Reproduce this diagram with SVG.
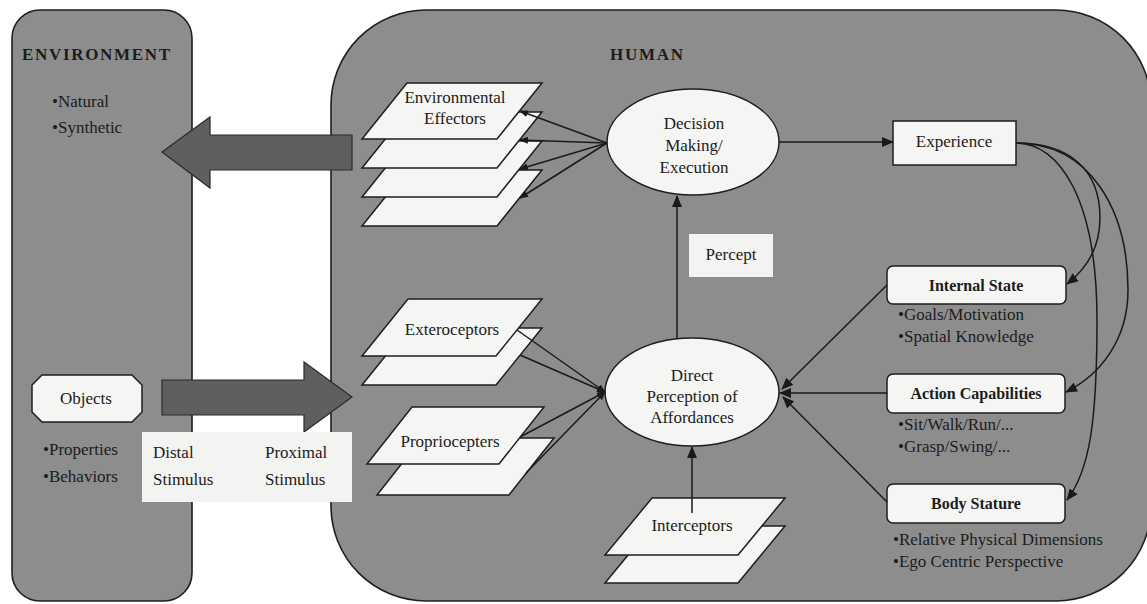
<svg xmlns="http://www.w3.org/2000/svg" width="1147" height="604" viewBox="0 0 1147 604">
<defs>
<style>
.panel{fill:#8d8d8d;stroke:#1e1e1e;stroke-width:1.6}
.big{fill:#5f5f5f;stroke:#2a2a2a;stroke-width:1.2}
.wh{fill:#f5f5f3;stroke:#1e1e1e;stroke-width:1.5}
.lbl{fill:#f3f3f1}
.t{font-family:"Liberation Serif","Times New Roman",serif;font-size:17px;fill:#1c1c1c}
.c{text-anchor:middle}
.b{font-weight:bold}
.h{font-family:"Liberation Serif","Times New Roman",serif;font-size:17px;font-weight:bold;fill:#1c1c1c}
.ln{fill:none;stroke:#1a1a1a;stroke-width:1.5}
</style>
<marker id="ah" viewBox="0 0 12 10" refX="11" refY="5" markerWidth="12" markerHeight="10" markerUnits="userSpaceOnUse" orient="auto">
<path d="M0,0 L12,5 L0,10 Z" fill="#1a1a1a"/>
</marker>
<marker id="as" viewBox="0 0 10 8" refX="9" refY="4" markerWidth="9" markerHeight="7" markerUnits="userSpaceOnUse" orient="auto">
<path d="M0,0 L10,4 L0,8 Z" fill="#1a1a1a"/>
</marker>
</defs>

<g id="environment">
<rect class="panel" x="12" y="10" width="180" height="591" rx="28" ry="28"/>
<text class="h" x="22" y="60" textLength="148" lengthAdjust="spacing">ENVIRONMENT</text>
<text class="t" x="52" y="107">•Natural</text>
<text class="t" x="52" y="133">•Synthetic</text>
</g>

<g id="human">
<rect class="panel" x="331" y="10" width="820" height="591" rx="95" ry="95"/>
<text class="h" x="610" y="60" textLength="73" lengthAdjust="spacing">HUMAN</text>
</g>

<g id="arrow-out">
<polygon class="big" points="352,135 210,135 210,117 162,152 210,188 210,170 352,170"/>
</g>
<g id="arrow-in">
<polygon class="big" points="162,380 304,380 304,362 352,397 304,432 304,415 162,415"/>
</g>

<g id="objects">
<polygon class="wh" points="42,375 132,375 142,385 142,412 132,422 42,422 32,412 32,385"/>
<text class="t c" x="86" y="404">Objects</text>
<text class="t" x="43" y="455">•Properties</text>
<text class="t" x="43" y="482">•Behaviors</text>
</g>

<g id="stimulus">
<rect class="lbl" x="142" y="432" width="210" height="70"/>
<text class="t" x="153" y="458">Distal</text>
<text class="t" x="153" y="485">Stimulus</text>
<text class="t" x="265" y="458">Proximal</text>
<text class="t" x="265" y="485">Stimulus</text>
</g>

<g id="effectors">
<polygon class="wh" points="407,170 542,170 497,226 362,226"/>
<polygon class="wh" points="407,141 542,141 497,197 362,197"/>
<polygon class="wh" points="407,112 542,112 497,168 362,168"/>
<polygon class="wh" points="407,83 542,83 497,139 362,139"/>
<text class="t c" x="455" y="103">Environmental</text>
<text class="t c" x="455" y="124">Effectors</text>
</g>

<g id="exteroceptors">
<polygon class="wh" points="408,328 542,328 496,385 362,385"/>
<polygon class="wh" points="408,299 542,299 496,356 362,356"/>
<text class="t c" x="452" y="335">Exteroceptors</text>
</g>

<g id="propriocepters">
<polygon class="wh" points="422,438 554,438 509,495 377,495"/>
<polygon class="wh" points="412,407 544,407 499,464 367,464"/>
<text class="t c" x="450" y="447">Propriocepters</text>
</g>

<g id="interceptors">
<polygon class="wh" points="652,526 785,526 738,583 605,583"/>
<polygon class="wh" points="652,498 785,498 738,555 605,555"/>
<text class="t c" x="692" y="531">Interceptors</text>
</g>

<g id="decision">
<ellipse class="wh" cx="693" cy="142" rx="86" ry="53"/>
<text class="t c" x="694" y="129">Decision</text>
<text class="t c" x="694" y="151">Making/</text>
<text class="t c" x="694" y="173">Execution</text>
</g>

<g id="direct">
<ellipse class="wh" cx="692" cy="392" rx="87" ry="54"/>
<text class="t c" x="692" y="381">Direct</text>
<text class="t c" x="692" y="402">Perception of</text>
<text class="t c" x="692" y="423">Affordances</text>
</g>

<g id="experience">
<rect class="wh" x="893" y="121" width="123" height="44"/>
<text class="t c" x="954" y="147">Experience</text>
</g>

<g id="percept">
<rect class="lbl" x="689" y="234" width="84" height="43"/>
<text class="t c" x="731" y="260">Percept</text>
</g>

<g id="internal">
<rect class="wh" x="887" y="266" width="179" height="38" rx="6"/>
<text class="t c b" x="976" y="291" style="font-size:16px">Internal State</text>
<text class="t" x="898" y="320">•Goals/Motivation</text>
<text class="t" x="898" y="342">•Spatial Knowledge</text>
</g>

<g id="action">
<rect class="wh" x="887" y="374" width="178" height="39" rx="6"/>
<text class="t c b" x="976" y="399" style="font-size:16px">Action Capabilities</text>
<text class="t" x="898" y="430">•Sit/Walk/Run/...</text>
<text class="t" x="898" y="452">•Grasp/Swing/...</text>
</g>

<g id="body">
<rect class="wh" x="887" y="484" width="178" height="39" rx="6"/>
<text class="t c b" x="976" y="509" style="font-size:16px">Body Stature</text>
<text class="t" x="893" y="545">•Relative Physical Dimensions</text>
<text class="t" x="893" y="567">•Ego Centric Perspective</text>
</g>

<g id="connectors">
<line class="ln" x1="607" y1="143" x2="520" y2="111" marker-end="url(#as)"/>
<line class="ln" x1="607" y1="143" x2="520" y2="140" marker-end="url(#as)"/>
<line class="ln" x1="607" y1="143" x2="520" y2="169" marker-end="url(#as)"/>
<line class="ln" x1="607" y1="143" x2="520" y2="198" marker-end="url(#as)"/>
<line class="ln" x1="779" y1="142" x2="893" y2="142" marker-end="url(#ah)"/>
<line class="ln" x1="677" y1="339" x2="677" y2="196" marker-end="url(#ah)"/>
<line class="ln" x1="517" y1="330" x2="605" y2="392" marker-end="url(#as)"/>
<line class="ln" x1="520" y1="355" x2="605" y2="392" marker-end="url(#as)"/>
<line class="ln" x1="520" y1="437" x2="605" y2="392" marker-end="url(#as)"/>
<line class="ln" x1="526" y1="473" x2="605" y2="392" marker-end="url(#as)"/>
<line class="ln" x1="692" y1="513" x2="692" y2="447" marker-end="url(#ah)"/>
<line class="ln" x1="887" y1="285" x2="782" y2="389" marker-end="url(#ah)"/>
<line class="ln" x1="887" y1="393" x2="780" y2="393" marker-end="url(#ah)"/>
<line class="ln" x1="887" y1="502" x2="783" y2="397" marker-end="url(#ah)"/>
<path class="ln" d="M1016,143 C1070,143 1100,170 1100,218 C1100,250 1085,270 1067,284" marker-end="url(#ah)"/>
<path class="ln" d="M1016,143 C1090,143 1128,210 1128,290 C1128,340 1100,375 1066,392" marker-end="url(#ah)"/>
<path class="ln" d="M1016,143 C1060,143 1097,200 1097,320 C1097,420 1090,470 1067,500" marker-end="url(#ah)"/>
</g>
</svg>
